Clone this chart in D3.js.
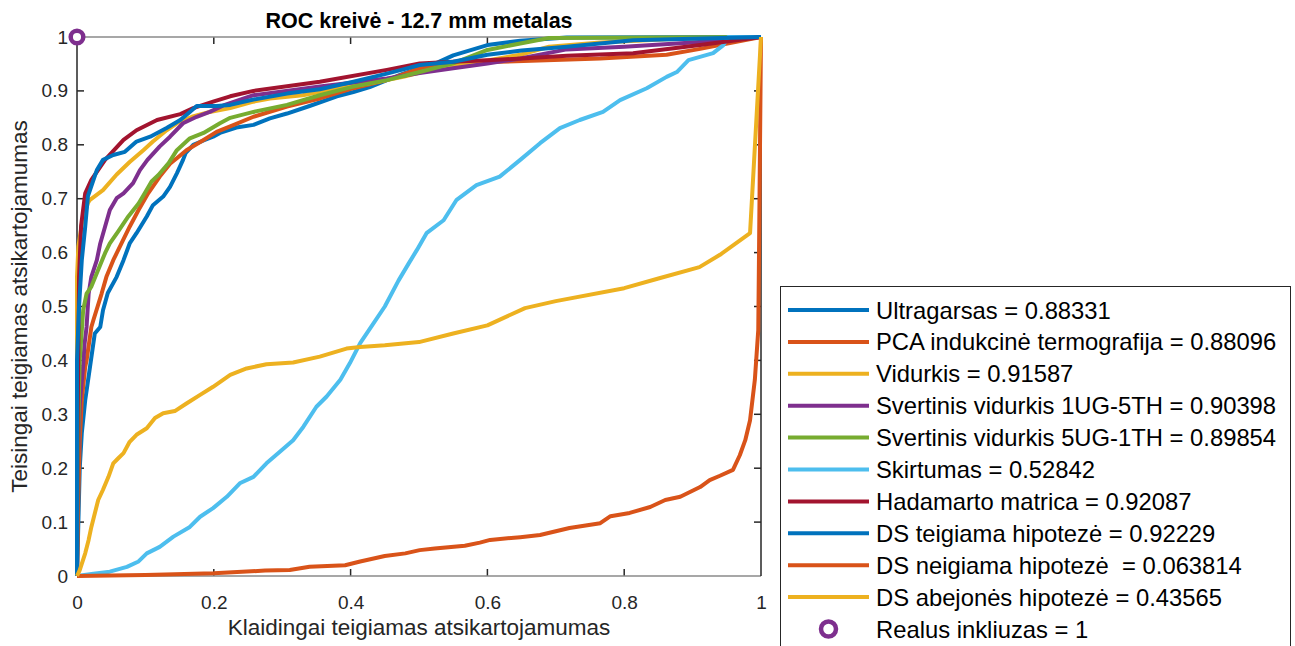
<!DOCTYPE html>
<html>
<head>
<meta charset="utf-8">
<script src="https://cdn.jsdelivr.net/npm/d3@7"></script>
<style>
  html, body { margin: 0; padding: 0; background: #fff; }
  svg { display: block; font-family: "Liberation Sans", Arial, Helvetica, sans-serif; }
</style>
</head>
<body>
<svg id="chart" width="1295" height="646"></svg>
<script>
// ROC curves: each series is a list of [false positive rate, true positive rate]
const ultragarsas = [[0,0],[0.002,0.1],[0.004,0.2],[0.007,0.265],[0.012,0.326],[0.019,0.388],[0.026,0.45],[0.034,0.462],[0.038,0.493],[0.045,0.525],[0.058,0.555],[0.068,0.586],[0.077,0.617],[0.087,0.636],[0.102,0.667],[0.111,0.688],[0.126,0.704],[0.136,0.722],[0.146,0.747],[0.155,0.772],[0.159,0.785],[0.17,0.8],[0.185,0.808],[0.199,0.815],[0.209,0.822],[0.233,0.832],[0.258,0.837],[0.282,0.849],[0.307,0.858],[0.34,0.872],[0.38,0.89],[0.404,0.898],[0.428,0.907],[0.453,0.92],[0.477,0.932],[0.501,0.942],[0.526,0.952],[0.55,0.966],[0.6,0.985],[0.648,0.993],[0.716,0.999],[1,1]];
const pcaTermografija = [[0,0],[0.002,0.15],[0.004,0.25],[0.007,0.326],[0.012,0.388],[0.014,0.4],[0.021,0.462],[0.024,0.475],[0.036,0.524],[0.043,0.555],[0.053,0.586],[0.065,0.617],[0.077,0.648],[0.09,0.679],[0.104,0.71],[0.121,0.741],[0.136,0.765],[0.146,0.775],[0.16,0.79],[0.185,0.809],[0.204,0.824],[0.224,0.834],[0.258,0.852],[0.307,0.871],[0.355,0.886],[0.404,0.905],[0.453,0.92],[0.501,0.942],[0.55,0.951],[0.618,0.954],[0.765,0.96],[0.862,0.967],[0.911,0.978],[1,1]];
const vidurkis = [[0,0],[0,0.555],[0.002,0.611],[0.008,0.66],[0.016,0.692],[0.019,0.698],[0.038,0.716],[0.058,0.745],[0.077,0.768],[0.097,0.79],[0.111,0.806],[0.131,0.827],[0.146,0.84],[0.168,0.852],[0.194,0.861],[0.224,0.868],[0.258,0.88],[0.282,0.886],[0.33,0.892],[0.38,0.905],[0.428,0.914],[0.477,0.926],[0.526,0.942],[0.575,0.951],[0.648,0.967],[0.69,0.982],[0.765,0.99],[0.862,0.996],[1,1]];
const svertinis1UG5TH = [[0,0],[0.001,0.2],[0.004,0.32],[0.009,0.39],[0.011,0.43],[0.014,0.462],[0.017,0.524],[0.021,0.555],[0.029,0.586],[0.034,0.617],[0.041,0.648],[0.048,0.679],[0.058,0.701],[0.068,0.71],[0.082,0.729],[0.092,0.753],[0.103,0.772],[0.121,0.797],[0.136,0.815],[0.155,0.84],[0.175,0.852],[0.194,0.861],[0.214,0.873],[0.258,0.892],[0.355,0.908],[0.453,0.923],[0.501,0.933],[0.55,0.942],[0.6,0.951],[0.648,0.96],[0.716,0.977],[0.8,0.982],[0.9,0.99],[1,1]];
const svertinis5UG1TH = [[0,0],[0.001,0.2],[0.003,0.35],[0.004,0.4],[0.009,0.493],[0.014,0.524],[0.021,0.537],[0.031,0.568],[0.041,0.599],[0.048,0.617],[0.06,0.639],[0.075,0.667],[0.09,0.691],[0.099,0.71],[0.109,0.732],[0.119,0.744],[0.134,0.766],[0.146,0.79],[0.165,0.812],[0.185,0.822],[0.209,0.84],[0.224,0.85],[0.258,0.861],[0.307,0.874],[0.355,0.892],[0.404,0.908],[0.453,0.92],[0.501,0.935],[0.55,0.951],[0.6,0.976],[0.648,0.988],[0.69,0.998],[1,1]];
const skirtumas = [[0,0],[0.024,0.004],[0.048,0.008],[0.073,0.017],[0.09,0.027],[0.102,0.042],[0.121,0.054],[0.141,0.073],[0.165,0.091],[0.18,0.11],[0.199,0.126],[0.219,0.147],[0.238,0.172],[0.258,0.184],[0.277,0.209],[0.297,0.231],[0.316,0.252],[0.331,0.277],[0.35,0.314],[0.365,0.333],[0.385,0.364],[0.399,0.395],[0.414,0.432],[0.43,0.462],[0.45,0.5],[0.47,0.548],[0.485,0.58],[0.497,0.605],[0.511,0.636],[0.536,0.66],[0.555,0.698],[0.584,0.725],[0.618,0.741],[0.648,0.772],[0.677,0.803],[0.706,0.831],[0.735,0.846],[0.769,0.861],[0.794,0.883],[0.833,0.905],[0.862,0.926],[0.877,0.935],[0.894,0.957],[0.93,0.97],[0.945,0.985],[0.952,1.0],[1,1]];
const hadamartoMatrica = [[0,0],[0.001,0.3],[0.003,0.555],[0.006,0.65],[0.012,0.71],[0.021,0.735],[0.041,0.772],[0.068,0.809],[0.087,0.827],[0.117,0.846],[0.151,0.857],[0.17,0.868],[0.199,0.88],[0.224,0.89],[0.258,0.9],[0.355,0.917],[0.453,0.939],[0.501,0.951],[0.55,0.954],[0.6,0.957],[0.65,0.96],[0.716,0.965],[0.813,0.97],[0.911,0.985],[1,1]];
const dsTeigiama = [[0,0],[0,0.4],[0.003,0.5],[0.007,0.586],[0.012,0.648],[0.016,0.705],[0.029,0.753],[0.038,0.772],[0.053,0.781],[0.07,0.787],[0.087,0.806],[0.107,0.815],[0.131,0.831],[0.151,0.846],[0.165,0.861],[0.175,0.872],[0.204,0.872],[0.224,0.874],[0.258,0.884],[0.307,0.895],[0.355,0.903],[0.404,0.917],[0.453,0.932],[0.477,0.94],[0.501,0.948],[0.55,0.954],[0.6,0.967],[0.65,0.975],[0.716,0.982],[0.813,0.994],[1,1]];
const dsNeigiama = [[0,0],[0.1,0.002],[0.2,0.005],[0.275,0.01],[0.311,0.011],[0.34,0.017],[0.392,0.02],[0.414,0.027],[0.45,0.037],[0.48,0.042],[0.501,0.048],[0.523,0.051],[0.567,0.056],[0.589,0.062],[0.604,0.067],[0.648,0.072],[0.677,0.076],[0.72,0.089],[0.765,0.098],[0.78,0.111],[0.808,0.117],[0.838,0.128],[0.86,0.141],[0.882,0.147],[0.911,0.165],[0.925,0.178],[0.94,0.186],[0.959,0.197],[0.969,0.224],[0.977,0.252],[0.984,0.289],[0.991,0.364],[0.996,0.456],[0.997,0.586],[1,1]];
const dsAbejones = [[0,0],[0.004,0.011],[0.012,0.042],[0.017,0.067],[0.021,0.091],[0.026,0.116],[0.031,0.141],[0.038,0.16],[0.046,0.184],[0.053,0.209],[0.06,0.218],[0.068,0.228],[0.077,0.249],[0.087,0.262],[0.102,0.274],[0.114,0.293],[0.126,0.302],[0.143,0.306],[0.16,0.32],[0.18,0.336],[0.199,0.351],[0.224,0.373],[0.248,0.385],[0.277,0.393],[0.316,0.396],[0.355,0.407],[0.394,0.422],[0.414,0.425],[0.45,0.428],[0.5,0.434],[0.55,0.45],[0.6,0.465],[0.655,0.497],[0.7,0.51],[0.8,0.534],[0.85,0.552],[0.91,0.573],[0.94,0.596],[0.984,0.636],[1,1]];

// The true inclusion point
const realusInkliuzas = [[0, 1]];

const seriesNames = [
  "Ultragarsas", "PCA indukcinė termografija", "Vidurkis",
  "Svertinis vidurkis 1UG-5TH", "Svertinis vidurkis 5UG-1TH", "Skirtumas",
  "Hadamarto matrica", "DS teigiama hipotezė", "DS neigiama hipotezė ", "DS abejonės hipotezė"
];
const aucValues = ["0.88331", "0.88096", "0.91587", "0.90398", "0.89854", "0.52842", "0.92087", "0.92229", "0.063814", "0.43565"];
const seriesData = [ultragarsas, pcaTermografija, vidurkis, svertinis1UG5TH, svertinis5UG1TH,
                    skirtumas, hadamartoMatrica, dsTeigiama, dsNeigiama, dsAbejones];
const markerName = "Realus inkliuzas";
const markerValue = "1";

const xTicks = [0, 0.2, 0.4, 0.6, 0.8, 1];
const yTicks = [0, 0.1, 0.2, 0.3, 0.4, 0.5, 0.6, 0.7, 0.8, 0.9, 1];

const titleText = "ROC kreivė - 12.7 mm metalas";
const xLabel = "Klaidingai teigiamas atsikartojamumas";
const yLabel = "Teisingai teigiamas atsikartojamumas";

// MATLAB default line colour order
const palette = ["#0072BD", "#D95319", "#EDB120", "#7E2F8E", "#77AC30", "#4DBEEE", "#A2142F"];
const markerColor = "#7E2F8E";

const svg = d3.select("#chart");
const plot = { left: 77, right: 761, top: 37, bottom: 576 };

const x = d3.scaleLinear().domain([0, 1]).range([plot.left, plot.right]);
const y = d3.scaleLinear().domain([0, 1]).range([plot.bottom, plot.top]);

const axisColor = "#262626";
const tickLen = 7;

// tick labels
svg.append("g")
  .attr("transform", `translate(0,${plot.bottom})`)
  .call(d3.axisBottom(x).tickValues(xTicks).tickFormat(d3.format("~g")).tickSize(0).tickPadding(20))
  .call(g => g.select(".domain").remove())
  .call(g => g.selectAll("text").attr("font-size", 19).attr("fill", axisColor)
    .attr("font-family", "'Liberation Sans', Arial, sans-serif"));

svg.append("g")
  .attr("transform", `translate(${plot.left},0)`)
  .call(d3.axisLeft(y).tickValues(yTicks).tickFormat(d3.format("~g")).tickSize(0).tickPadding(9))
  .call(g => g.select(".domain").remove())
  .call(g => g.selectAll("text").attr("font-size", 19).attr("fill", axisColor)
    .attr("font-family", "'Liberation Sans', Arial, sans-serif"));

// inward ticks on all four sides
const tickG = svg.append("g").attr("stroke", axisColor).attr("stroke-width", 1.5);
xTicks.slice(1, -1).forEach(t => {
  tickG.append("line").attr("x1", x(t)).attr("x2", x(t)).attr("y1", plot.bottom).attr("y2", plot.bottom - tickLen);
  tickG.append("line").attr("x1", x(t)).attr("x2", x(t)).attr("y1", plot.top).attr("y2", plot.top + tickLen);
});
yTicks.slice(1, -1).forEach(t => {
  tickG.append("line").attr("y1", y(t)).attr("y2", y(t)).attr("x1", plot.left).attr("x2", plot.left + tickLen);
  tickG.append("line").attr("y1", y(t)).attr("y2", y(t)).attr("x1", plot.right).attr("x2", plot.right - tickLen);
});

// axes box
svg.append("line").attr("x1", plot.left).attr("x2", plot.right).attr("y1", plot.top).attr("y2", plot.top)
  .attr("stroke", "#8a8a8a").attr("stroke-width", 1.5);
svg.append("line").attr("x1", plot.left).attr("x2", plot.right).attr("y1", plot.bottom).attr("y2", plot.bottom)
  .attr("stroke", "#8a8a8a").attr("stroke-width", 1.5);
svg.append("line").attr("x1", plot.left).attr("x2", plot.left).attr("y1", plot.top).attr("y2", plot.bottom)
  .attr("stroke", axisColor).attr("stroke-width", 1.5);
svg.append("line").attr("x1", plot.right).attr("x2", plot.right).attr("y1", plot.top).attr("y2", plot.bottom)
  .attr("stroke", axisColor).attr("stroke-width", 1.5);

// curves
const line = d3.line().x(d => x(d[0])).y(d => y(d[1]));
svg.append("g").selectAll("path")
  .data(seriesData)
  .join("path")
  .attr("d", line)
  .attr("fill", "none")
  .attr("stroke", (d, i) => palette[i % palette.length])
  .attr("stroke-width", 4)
  .attr("stroke-linejoin", "round");

// true inclusion marker
svg.append("g").selectAll("circle")
  .data(realusInkliuzas)
  .join("circle")
  .attr("cx", d => x(d[0]))
  .attr("cy", d => y(d[1]))
  .attr("r", 6.3)
  .attr("fill", "#fff")
  .attr("stroke", markerColor)
  .attr("stroke-width", 4.5);

// title and axis labels
svg.append("text")
  .attr("x", (plot.left + plot.right) / 2).attr("y", 28)
  .attr("text-anchor", "middle").attr("font-weight", "bold").attr("font-size", 21.5)
  .attr("fill", "#000").text(titleText);

svg.append("text")
  .attr("x", (plot.left + plot.right) / 2).attr("y", 635)
  .attr("text-anchor", "middle").attr("font-size", 22.5).attr("fill", axisColor)
  .text(xLabel);

svg.append("text")
  .attr("transform", `translate(27,${(plot.top + plot.bottom) / 2}) rotate(-90)`)
  .attr("text-anchor", "middle").attr("font-size", 22.5).attr("fill", axisColor)
  .text(yLabel);

// legend
const legend = { x: 780, y: 286, w: 510, rowH: 31.9, first: 310 };
svg.append("rect")
  .attr("x", legend.x + 0.5).attr("y", legend.y + 0.5)
  .attr("width", legend.w).attr("height", 420)
  .attr("fill", "#fff").attr("stroke", axisColor).attr("stroke-width", 1);

const legendItems = seriesNames.map((n, i) => ({ label: `${n} = ${aucValues[i]}`, color: palette[i % palette.length], kind: "line" }));
legendItems.push({ label: `${markerName} = ${markerValue}`, color: markerColor, kind: "marker" });

const rows = svg.append("g").selectAll("g")
  .data(legendItems)
  .join("g")
  .attr("transform", (d, i) => `translate(0,${legend.first + i * legend.rowH})`);

rows.filter(d => d.kind === "line").append("line")
  .attr("x1", 788).attr("x2", 869).attr("y1", 0).attr("y2", 0)
  .attr("stroke", d => d.color).attr("stroke-width", 4);

rows.filter(d => d.kind === "marker").append("circle")
  .attr("cx", 828.5).attr("cy", 0).attr("r", 7.5)
  .attr("fill", "#fff").attr("stroke", d => d.color).attr("stroke-width", 4.5);

rows.append("text")
  .attr("x", 876).attr("y", 8.5)
  .attr("font-size", 23.8).attr("fill", "#000")
  .style("white-space", "pre")
  .text(d => d.label);
</script>
</body>
</html>
